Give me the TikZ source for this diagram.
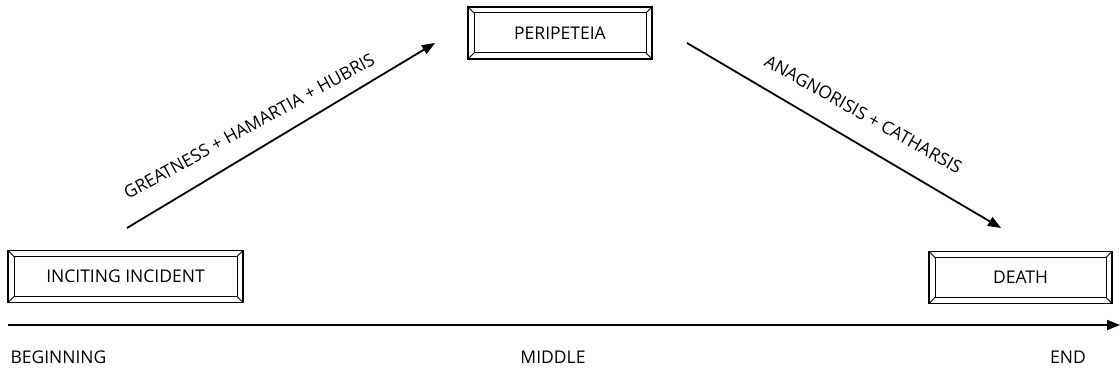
\documentclass[tikz,border=0pt]{standalone}
\usepackage{fontspec}
\setmainfont{Open Sans}
\usetikzlibrary{arrows.meta}
\tikzset{
  txt/.style={font=\fontsize{17.5}{20}\selectfont, text=black},
  bevel/.style={draw=black, line width=1.2pt, minimum height=52pt, inner sep=0pt, txt,
    path picture={
      \draw[line width=1pt] ([shift={(6pt,6pt)}]path picture bounding box.south west) rectangle ([shift={(-6pt,-6pt)}]path picture bounding box.north east);
      \draw[line width=0.8pt] (path picture bounding box.south west) -- ++(6pt,6pt);
      \draw[line width=0.8pt] (path picture bounding box.north west) -- ++(6pt,-6pt);
      \draw[line width=0.8pt] (path picture bounding box.south east) -- ++(-6pt,6pt);
      \draw[line width=0.8pt] (path picture bounding box.north east) -- ++(-6pt,-6pt);
    }},
  flow/.style={line width=1.8pt, -{Triangle[length=13pt,width=10pt]}},
  rlbl/.style={txt, anchor=base west, inner sep=0pt}
}
\begin{document}
\begin{tikzpicture}[x=1pt, y=-1pt]
\useasboundingbox (0,0) rectangle (1120,374);
\node[bevel, minimum width=235pt] (inc) at (125.5,276.5) {INCITING INCIDENT};
\node[bevel, minimum width=184pt] (per) at (560,33) {PERIPETEIA};
\node[bevel, minimum width=183pt] (dea) at (1020.5,277.5) {DEATH};
\coordinate (a1s) at (127,228);
\coordinate (a1e) at (435,43);
\coordinate (a2s) at (687,43);
\coordinate (a2e) at (1001,228);
\coordinate (ts) at (8,325);
\coordinate (te) at (1120,325);
\draw[flow] (a1s) -- (a1e);
\draw[flow] (a2s) -- (a2e);
\draw[flow] (ts) -- (te);
\node[rlbl, rotate=28.8] (l1) at (128,200) {GREATNESS + HAMARTIA + HUBRIS};
\node[rlbl, rotate=-29.3] (l2) at (763,65) {ANAGNORISIS + CATHARSIS};
\node[txt, anchor=west] (beg) at (7,357) {BEGINNING};
\node[txt] (mid) at (553,357) {MIDDLE};
\node[txt] (end) at (1068,357) {END};
\end{tikzpicture}
\end{document}
